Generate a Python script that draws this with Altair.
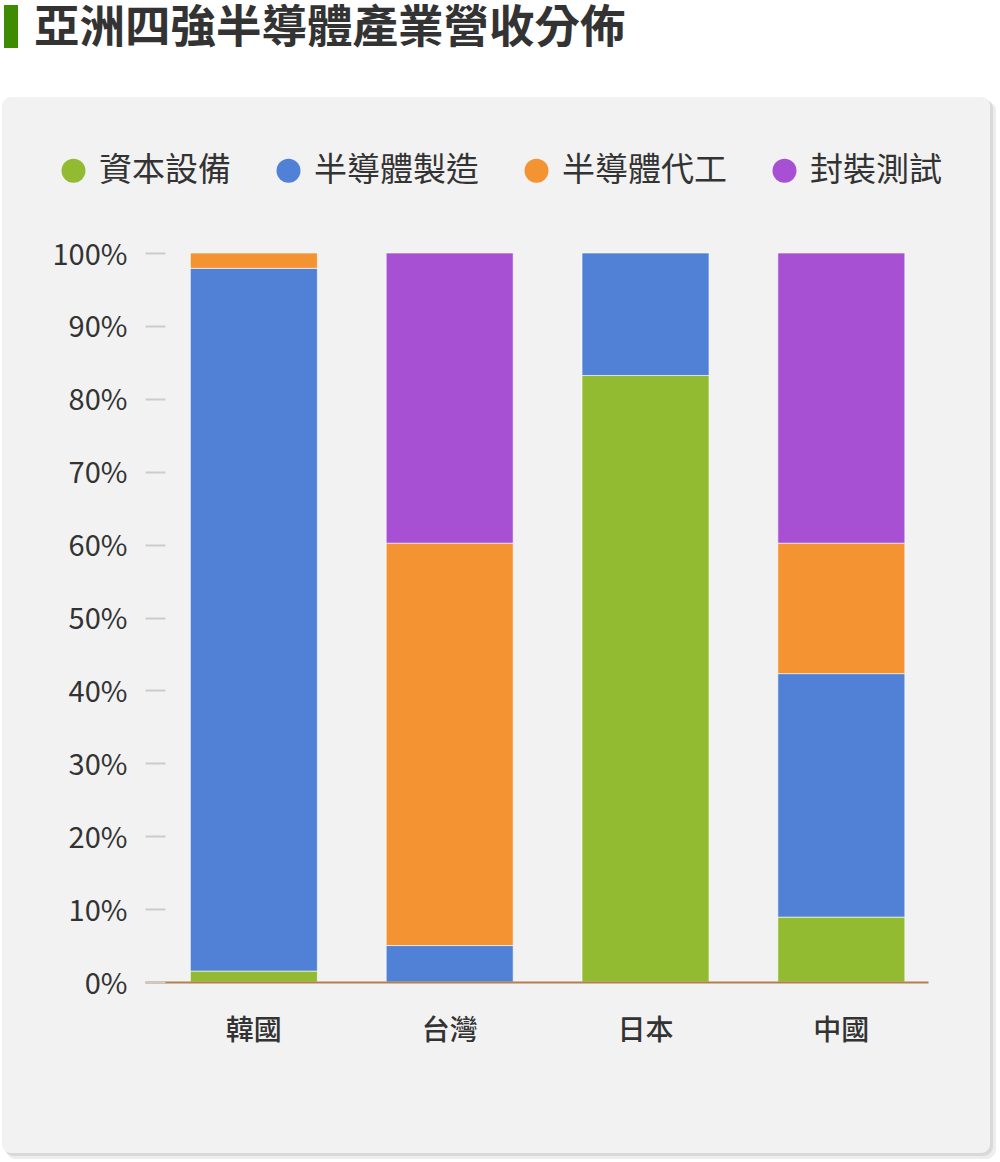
import altair as alt
import pandas as pd

countries = ["韓國", "台灣", "日本", "中國"]
series = ["資本設備", "半導體製造", "半導體代工", "封裝測試"]
colors = ["#92bb31", "#5181d6", "#f39332", "#a750d3"]
equipment = [1.5, 0.0, 83.2, 8.9]
manufacturing = [96.4, 5.0, 16.8, 33.4]
foundry = [2.1, 55.2, 0.0, 17.9]
packaging = [0.0, 39.8, 0.0, 39.8]
y_ticks = [0, 10, 20, 30, 40, 50, 60, 70, 80, 90, 100]
title_text = "亞洲四強半導體產業營收分佈"

FONT = "Noto Sans CJK TC"

rows = []
for si, (s, vals) in enumerate(zip(series, [equipment, manufacturing, foundry, packaging])):
    for c, v in zip(countries, vals):
        if v > 0:
            rows.append({"country": c, "series": s, "order": si, "value": v})
df = pd.DataFrame(rows)

one = alt.Data(values=[{}])

def deco_rect(x1, x2, y1, y2, fill, radius=0):
    return alt.Chart(one).mark_rect(fill=fill, cornerRadius=radius).encode(
        x=alt.value(x1 - 145), x2=alt.value(x2 - 145),
        y=alt.value(y1 - 253), y2=alt.value(y2 - 253),
    )

shadow2 = deco_rect(6, 996, 101, 1159, "#ededed", 10)
shadow1 = deco_rect(4, 993, 99, 1156, "#d9d9d9", 10)
panel = deco_rect(2, 990, 97, 1153, "#f2f2f2", 9)
greenbar = deco_rect(4, 18, 5, 48, "#3f8c04")

title = alt.Chart(one).mark_text(
    text=title_text, font=FONT, fontSize=45.5, fontWeight="bold",
    align="left", baseline="middle", color="#333333",
).encode(x=alt.value(34 - 145), y=alt.value(29 - 253))

bars = alt.Chart(df).mark_bar(stroke="white", strokeWidth=1, strokeOpacity=0.6).encode(
    x=alt.X(
        "country:N", sort=countries,
        scale=alt.Scale(paddingInner=0.3515, paddingOuter=0.175, align=0.662),
        axis=alt.Axis(
            title=None, labelAngle=0, ticks=False, domainColor="#b08050",
            domainWidth=2, labelFontSize=28, labelColor="#333333",
            labelPadding=35, labelFont=FONT, labelFontWeight=500, zindex=1,
        ),
    ),
    y=alt.Y(
        "value:Q", stack="zero",
        scale=alt.Scale(domain=[0, 100], nice=False),
        axis=alt.Axis(
            title=None, values=y_ticks, labelExpr="datum.value + '%'",
            domain=False, grid=False, tickColor="#cccccc", tickSize=20,
            tickWidth=2, offset=-20, labelPadding=18, labelFontSize=29,
            labelColor="#333333", labelFont=FONT, labelBaseline="middle",
            labelOffset=2, zindex=1,
        ),
    ),
    color=alt.Color(
        "series:N",
        scale=alt.Scale(domain=series, range=colors),
        legend=alt.Legend(
            title=None, orient="none", legendX=-88, legendY=-99,
            direction="horizontal", symbolType="circle", symbolSize=576,
            symbolStrokeWidth=0, labelFontSize=33, labelLimit=300,
            labelOffset=9, columnPadding=41, labelColor="#333333",
            labelFont=FONT, zindex=1, padding=0,
        ),
    ),
    order=alt.Order("order:Q"),
)

chart = alt.layer(shadow2, shadow1, panel, greenbar, title, bars).properties(
    width=783, height=729,
    autosize=alt.AutoSizeParams(type="none"),
    padding={"left": 145, "top": 253, "right": 72, "bottom": 180},
    background="white",
).configure(font=FONT).configure_view(strokeWidth=0)

chart.save("out.html", embed_options={"renderer": "svg", "actions": False})
